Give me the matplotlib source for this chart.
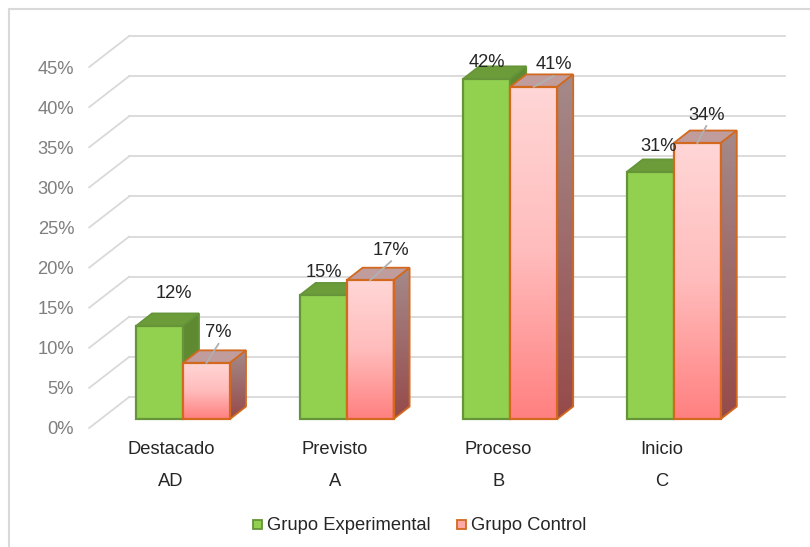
import numpy as np
import matplotlib
matplotlib.use('Agg')
import matplotlib.pyplot as plt
from matplotlib.colors import LinearSegmentedColormap
from matplotlib.patches import Polygon, Rectangle
from matplotlib.lines import Line2D
from matplotlib.transforms import Affine2D

plt.rcParams['font.family'] = ['Liberation Sans', 'DejaVu Sans']

categorias = ['Destacado', 'Previsto', 'Proceso', 'Inicio']
niveles = ['AD', 'A', 'B', 'C']
experimental = [11.6, 15.4, 42.4, 30.8]
control = [7.0, 17.3, 41.4, 34.4]
ticks = [0, 5, 10, 15, 20, 25, 30, 35, 40, 45]

W, H = 810, 547
fig = plt.figure(figsize=(W / 100, H / 100), dpi=100, facecolor='white')

# plano frontal del grafico, en pixeles de la figura
left, right, y0, y45 = 89.2, 743.6, 428.0, 67.0
ax = fig.add_axes([left / W, 1 - y0 / H, (right - left) / W, (y0 - y45) / H])
ax.set_xlim(-0.5, 3.5)
ax.set_ylim(0, 45)
ax.axis('off')


def offset(dx, dy):
    # desplazamiento en pixeles para simular la profundidad
    return ax.transData + Affine2D().translate(dx, dy)


def a_datos(x, y, dx, dy):
    # punto de datos corrido dx, dy pixeles, de vuelta en datos
    return ax.transData.inverted().transform(ax.transData.transform((x, y)) + np.array([dx, dy]))


# marco: solo arriba y a la izquierda
marco = '#d9d9d9'
fig.add_artist(Line2D([9 / W, 9 / W, 1], [0, 1 - 9 / H, 1 - 9 / H], color=marco, lw=1.5))

# pared del fondo y lineas diagonales del lateral
grid = '#d9d9d9'
back_dx, back_dy = 40, 31
for t in ticks:
    ax.plot([-0.5, 3.51], [t, t], color=grid, lw=1.3, clip_on=False, zorder=1,
            transform=offset(back_dx, back_dy))
    p = a_datos(-0.5, t, back_dx, back_dy)
    ax.plot([-0.5, p[0]], [t, p[1]], color=grid, lw=1.3, clip_on=False, zorder=1)
    ax.text(-0.5, t, f'{t}%', transform=offset(-15, -2), ha='right', va='center',
            color='#7f7f7f', fontsize=13.2)

cmap_front = LinearSegmentedColormap.from_list('f', ['#ffd6d6', '#ffbcbc', '#ff8080'])
cmap_side = LinearSegmentedColormap.from_list('s', ['#a58a8a', '#964a4a'])
grad = np.linspace(0, 1, 128).reshape(-1, 1)

bar_w = 47 / 163.6
bar_dx, bar_dy = 12, 9
depth_x, depth_y = 16, 12.5
tr_bar = offset(bar_dx, bar_dy)


def caja(x, v, cara, lado, tapa, borde, z, degradado=False):
    x1 = x + bar_w
    top_b0 = a_datos(x, v, depth_x, depth_y)
    top_b1 = a_datos(x1, v, depth_x, depth_y)
    bot_b1 = a_datos(x1, 0, depth_x, depth_y)
    top = Polygon([(x, v), (x1, v), top_b1, top_b0], closed=True, transform=tr_bar,
                  facecolor=tapa, edgecolor=borde, lw=1.3, zorder=z, clip_on=False)
    side = Polygon([(x1, 0), (x1, v), top_b1, bot_b1], closed=True, transform=tr_bar,
                   facecolor=lado if not degradado else 'none', edgecolor=borde, lw=1.3,
                   zorder=z + 0.2, clip_on=False)
    front = Polygon([(x, 0), (x, v), (x1, v), (x1, 0)], closed=True, transform=tr_bar,
                    facecolor=cara if not degradado else 'none', edgecolor=borde, lw=1.6,
                    zorder=z + 0.3, clip_on=False)
    ax.add_patch(top)
    ax.add_patch(side)
    ax.add_patch(front)
    if degradado:
        im = ax.imshow(grad, cmap=cmap_front, aspect='auto', extent=(x, x1, 0, v), origin='upper',
                       transform=tr_bar, zorder=z + 0.1)
        im.set_clip_path(front)
        im2 = ax.imshow(grad, cmap=cmap_side, aspect='auto', extent=(x1, top_b1[0], 0, top_b1[1]),
                        origin='upper', transform=tr_bar, zorder=z + 0.1)
        im2.set_clip_path(side)


for i in range(len(categorias)):
    caja(i - bar_w, experimental[i], '#92d050', '#5f8a32', '#6c9c3a', '#659439', 3)
    caja(i, control[i], None, None, '#c09c9c', '#d2691e', 4, degradado=True)

ax.set_xlim(-0.5, 3.5)
ax.set_ylim(0, 45)

# etiquetas de valor; las del grupo control llevan linea guia
txt = '#262626'
lab_exp = [(14, 32), (1, 23), (0, 16), (8, 25)]
lab_ctl = [(12, 30), (21, 30), (20, 22), (9, 28)]
for i in range(len(categorias)):
    v = experimental[i]
    ax.annotate(f'{v:.0f}%', (i - bar_w / 2, v), xycoords=tr_bar, xytext=lab_exp[i],
                textcoords='offset pixels', ha='center', va='center', fontsize=13.2,
                color=txt, zorder=9, annotation_clip=False)
    v = control[i]
    ax.annotate(f'{v:.0f}%', (i + bar_w / 2, v), xycoords=tr_bar, xytext=lab_ctl[i],
                textcoords='offset pixels', ha='center', va='center', fontsize=13.2,
                color=txt, zorder=9, annotation_clip=False)
    fin = a_datos(i + bar_w / 2, v, lab_ctl[i][0], lab_ctl[i][1] - 11)
    ax.plot([i + bar_w / 2, fin[0]], [v, fin[1]], color='#b0b0b0', lw=1.3, zorder=8,
            clip_on=False, transform=tr_bar)
    ax.text(i, 0, categorias[i], transform=offset(0, -22), ha='center', va='center',
            fontsize=13.2, color=txt)
    ax.text(i, 0, niveles[i], transform=offset(0, -54), ha='center', va='center',
            fontsize=13.2, color=txt)

# leyenda
fig.add_artist(Rectangle((253 / W, 1 - 529 / H), 9 / W, 9 / H, transform=fig.transFigure,
                         facecolor='#92d050', edgecolor='#659439', lw=1.3))
fig.add_artist(Rectangle((457 / W, 1 - 529 / H), 9 / W, 9 / H, transform=fig.transFigure,
                         facecolor='#ffa8a8', edgecolor='#d2691e', lw=1.3))
fig.text(267 / W, 1 - 525.5 / H, 'Grupo Experimental', ha='left', va='center', fontsize=13.2, color=txt)
fig.text(471 / W, 1 - 525.5 / H, 'Grupo Control', ha='left', va='center', fontsize=13.2, color=txt)

fig.savefig('out.png', dpi=100)
